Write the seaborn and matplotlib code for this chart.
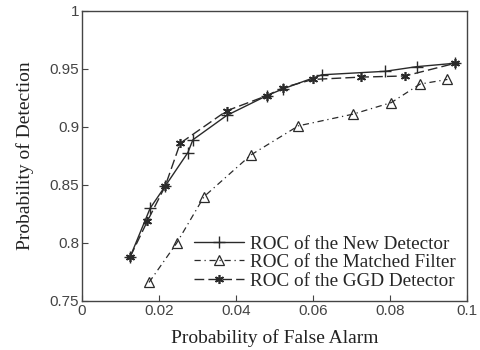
import matplotlib
matplotlib.use("Agg")
import matplotlib.pyplot as plt
import seaborn as sns
import pandas as pd

# ROC points
new_pfa = [0.0125, 0.0177, 0.0216, 0.0275, 0.0288, 0.0376, 0.048, 0.0523, 0.0623, 0.0787, 0.0869, 0.097]
new_pd = [0.788, 0.830, 0.849, 0.878, 0.889, 0.910, 0.927, 0.933, 0.945, 0.948, 0.952, 0.955]

mf_pfa = [0.0174, 0.0246, 0.0317, 0.0439, 0.0562, 0.0703, 0.0803, 0.0878, 0.0949]
mf_pd = [0.766, 0.800, 0.840, 0.876, 0.901, 0.911, 0.921, 0.937, 0.941]

ggd_pfa = [0.0125, 0.0170, 0.0216, 0.0255, 0.0376, 0.048, 0.0523, 0.060, 0.0724, 0.0839, 0.097]
ggd_pd = [0.788, 0.819, 0.849, 0.886, 0.914, 0.927, 0.934, 0.941, 0.943, 0.944, 0.955]

x_ticks = [0, 0.02, 0.04, 0.06, 0.08, 0.1]
x_ticklabels = ["0", "0.02", "0.04", "0.06", "0.08", "0.1"]
y_ticks = [0.75, 0.8, 0.85, 0.9, 0.95, 1]
y_ticklabels = ["0.75", "0.8", "0.85", "0.9", "0.95", "1"]

sns.set_style("ticks")
plt.rcParams['font.family'] = ['Liberation Serif', 'DejaVu Serif']

fig = plt.figure(figsize=(4.81, 3.5), dpi=100)
ax = fig.add_axes([0.1705, 0.14, 0.8005, 0.8286])

df_new = pd.DataFrame({"pfa": new_pfa, "pd": new_pd})
df_mf = pd.DataFrame({"pfa": mf_pfa, "pd": mf_pd})
df_ggd = pd.DataFrame({"pfa": ggd_pfa, "pd": ggd_pd})

col = "#2a2a2a"
sns.lineplot(data=df_new, x="pfa", y="pd", ax=ax, sort=False, color=col, lw=1.0,
             marker="+", markersize=9, mec=col, mew=1.0, label="ROC of the New Detector")
sns.lineplot(data=df_mf, x="pfa", y="pd", ax=ax, sort=False, color=col, lw=0.9,
             linestyle=(0, (5, 3, 1, 3)), marker="^", markersize=6.5, mfc="none", mec=col, mew=0.9,
             label="ROC of the Matched Filter")
sns.lineplot(data=df_ggd, x="pfa", y="pd", ax=ax, sort=False, color=col, lw=1.0,
             linestyle=(0, (7, 3)), marker=(6, 2, 0), markersize=6.5, mec=col, mew=1.2,
             label="ROC of the GGD Detector")

ax.set_xlim(0, 0.1)
ax.set_ylim(0.75, 1)
ax.set_xticks(x_ticks)
ax.set_xticklabels(x_ticklabels, family=["Liberation Sans"], fontsize=11, color="#444444")
ax.set_yticks(y_ticks)
ax.set_yticklabels(y_ticklabels, family=["Liberation Sans"], fontsize=11, color="#444444")
ax.tick_params(direction="in", length=4, width=0.8, color="#444444", pad=2)
for s in ax.spines.values():
    s.set_color("#444444")
    s.set_linewidth(1.0)

ax.set_xlabel("Probability of False Alarm", fontsize=14, color="#222222", labelpad=8)
ax.set_ylabel("Probability of Detection", fontsize=14, color="#222222", labelpad=11)

ax.legend(loc="lower right", frameon=False, fontsize=13.8, handlelength=2.6,
          handletextpad=0.3, labelspacing=0.05, borderaxespad=0.2)

fig.savefig("out.png", dpi=100)
